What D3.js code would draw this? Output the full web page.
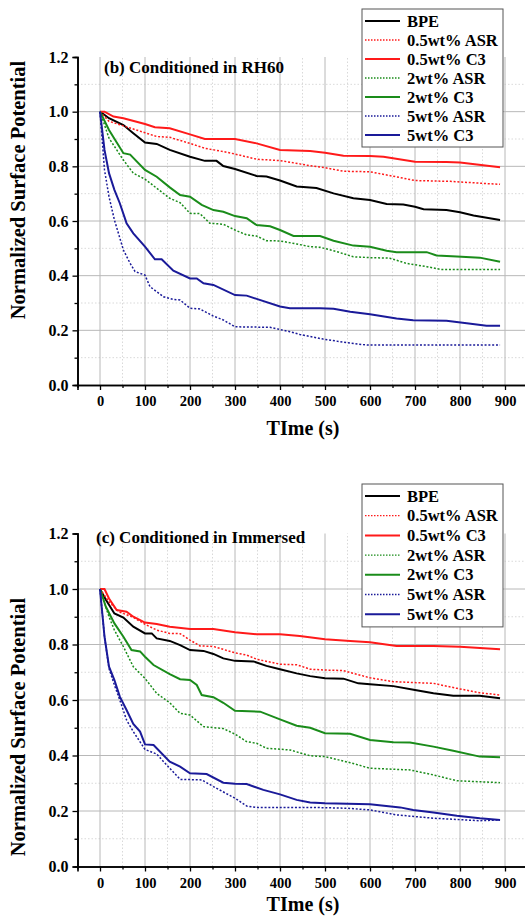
<!DOCTYPE html>
<html>
<head>
<meta charset="utf-8">
<script src="https://cdn.jsdelivr.net/npm/d3@7"></script>
<style>
  body { margin: 0; background: #fff; }
  svg { display: block; }
  text { font-family: "Liberation Serif", "Times New Roman", serif; font-weight: bold; }
</style>
</head>
<body>
<script>
// series labels shown in the legend
const seriesNames = ["BPE", "0.5wt% ASR", "0.5wt% C3", "2wt% ASR", "2wt% C3", "5wt% ASR", "5wt% C3"];
const xTicks = [0, 100, 200, 300, 400, 500, 600, 700, 800, 900];
const yTicks = [0.0, 0.2, 0.4, 0.6, 0.8, 1.0, 1.2];

// (b) conditioned in RH60 : [time s, normalized potential]
const rh60BPE = [[0,1.0],[20,0.976],[52,0.951],[74,0.921],[100,0.887],[126,0.882],[155,0.860],[200,0.835],[233,0.820],[259,0.820],[274,0.801],[300,0.790],[348,0.765],[370,0.763],[400,0.748],[437,0.726],[481,0.721],[519,0.701],[563,0.683],[600,0.677],[637,0.662],[674,0.660],[700,0.652],[719,0.643],[770,0.640],[800,0.632],[830,0.620],[889,0.604]];
const rh60ASR05 = [[0,1.0],[20,0.965],[52,0.948],[100,0.923],[126,0.909],[155,0.906],[200,0.884],[233,0.866],[274,0.854],[300,0.845],[348,0.826],[400,0.821],[444,0.809],[467,0.802],[500,0.795],[541,0.782],[600,0.780],[667,0.759],[700,0.748],[778,0.745],[889,0.734]];
const rh60C305 = [[0,1.0],[10,1.0],[30,0.982],[52,0.976],[100,0.955],[122,0.943],[155,0.939],[200,0.917],[233,0.900],[300,0.900],[348,0.884],[400,0.860],[467,0.856],[500,0.850],[541,0.839],[600,0.838],[630,0.835],[700,0.817],[770,0.816],[800,0.814],[889,0.797]];
const rh60ASR2 = [[0,1.0],[20,0.903],[52,0.823],[74,0.775],[100,0.753],[126,0.720],[155,0.683],[178,0.667],[200,0.628],[222,0.627],[244,0.592],[274,0.588],[300,0.567],[326,0.549],[348,0.545],[370,0.528],[400,0.527],[437,0.516],[467,0.506],[489,0.504],[526,0.488],[563,0.469],[600,0.466],[644,0.464],[681,0.445],[726,0.433],[756,0.423],[889,0.423]];
const rh60C32 = [[0,1.0],[20,0.933],[52,0.848],[67,0.843],[100,0.787],[126,0.762],[155,0.723],[178,0.695],[200,0.689],[226,0.659],[252,0.640],[274,0.634],[300,0.618],[326,0.610],[348,0.585],[378,0.581],[400,0.567],[430,0.545],[489,0.545],[519,0.528],[563,0.510],[600,0.506],[637,0.491],[659,0.486],[726,0.486],[748,0.474],[793,0.470],[844,0.466],[889,0.451]];
const rh60ASR5 = [[0,1.0],[10,0.787],[20,0.689],[32,0.604],[52,0.494],[67,0.445],[78,0.415],[100,0.402],[111,0.360],[141,0.323],[163,0.313],[178,0.311],[200,0.281],[222,0.278],[252,0.252],[274,0.238],[300,0.213],[378,0.211],[422,0.195],[444,0.185],[496,0.168],[548,0.155],[593,0.146],[889,0.146]];
const rh60C35 = [[0,1.0],[10,0.860],[20,0.775],[32,0.714],[44,0.665],[59,0.592],[74,0.555],[100,0.506],[122,0.460],[137,0.460],[163,0.418],[200,0.390],[215,0.390],[230,0.372],[252,0.366],[300,0.329],[326,0.327],[348,0.315],[400,0.287],[422,0.281],[489,0.281],[519,0.279],[556,0.268],[600,0.259],[659,0.243],[696,0.237],[770,0.235],[815,0.226],[859,0.217],[889,0.217]];

// (c) conditioned in immersed
const immBPE = [[0,1.0],[13,0.961],[32,0.912],[52,0.897],[74,0.864],[100,0.840],[115,0.840],[126,0.822],[155,0.813],[178,0.798],[200,0.780],[230,0.777],[252,0.766],[274,0.750],[300,0.741],[341,0.739],[370,0.723],[400,0.711],[437,0.696],[467,0.686],[500,0.678],[541,0.677],[574,0.660],[600,0.657],[652,0.650],[700,0.636],[741,0.624],[785,0.615],[844,0.615],[889,0.606]];
const immASR05 = [[0,1.0],[20,0.954],[42,0.918],[74,0.898],[100,0.873],[126,0.852],[155,0.840],[178,0.839],[200,0.816],[222,0.795],[252,0.793],[300,0.770],[326,0.762],[348,0.747],[400,0.729],[437,0.727],[467,0.711],[500,0.708],[541,0.706],[600,0.680],[652,0.666],[741,0.660],[793,0.642],[844,0.626],[889,0.618]];
const immC305 = [[0,1.0],[10,1.0],[20,0.966],[37,0.924],[59,0.918],[74,0.900],[100,0.879],[126,0.874],[155,0.864],[200,0.856],[252,0.856],[300,0.844],[348,0.837],[400,0.837],[444,0.831],[500,0.819],[556,0.813],[600,0.808],[659,0.795],[741,0.795],[800,0.792],[889,0.783]];
const immASR2 = [[0,1.0],[10,0.949],[20,0.900],[32,0.852],[52,0.792],[74,0.720],[100,0.678],[126,0.624],[155,0.590],[178,0.552],[200,0.546],[230,0.504],[274,0.497],[300,0.477],[326,0.450],[348,0.444],[370,0.426],[422,0.420],[467,0.399],[500,0.396],[556,0.374],[600,0.354],[689,0.348],[741,0.330],[793,0.309],[889,0.302]];
const immC32 = [[0,1.0],[13,0.936],[32,0.876],[52,0.828],[70,0.780],[89,0.775],[100,0.756],[119,0.726],[155,0.693],[178,0.675],[200,0.672],[215,0.654],[226,0.618],[252,0.610],[274,0.590],[300,0.561],[356,0.558],[400,0.530],[437,0.507],[467,0.500],[500,0.480],[556,0.478],[600,0.456],[652,0.448],[689,0.447],[741,0.432],[785,0.417],[844,0.396],[889,0.394]];
const immASR5 = [[0,1.0],[10,0.828],[20,0.714],[32,0.654],[44,0.600],[59,0.528],[74,0.486],[100,0.422],[126,0.405],[155,0.354],[178,0.314],[226,0.312],[252,0.288],[300,0.246],[326,0.218],[348,0.213],[467,0.213],[548,0.210],[600,0.204],[659,0.186],[741,0.174],[844,0.165],[889,0.168]];
const immC35 = [[0,1.0],[10,0.828],[20,0.720],[32,0.672],[44,0.612],[59,0.564],[74,0.514],[89,0.486],[100,0.440],[119,0.438],[155,0.378],[178,0.360],[200,0.336],[237,0.333],[274,0.302],[300,0.298],[326,0.297],[363,0.276],[400,0.260],[437,0.240],[467,0.231],[500,0.228],[600,0.224],[667,0.213],[696,0.204],[741,0.195],[793,0.183],[844,0.174],[889,0.168]];

const colors = ["#000000", "#ff1a1a", "#ff1a1a", "#1a8c1a", "#1a8c1a", "#1a1a99", "#1a1a99"];
const dashed = [false, true, false, true, false, true, false];

const svg = d3.select("body").append("svg")
    .attr("width", 525)
    .attr("height", 920);

function drawPanel(cfg) {
    var x = d3.scaleLinear().domain([-50, 950]).range([77.5, 527.5]);
    var y = d3.scaleLinear().domain([0, 1.2]).range([cfg.bottom, cfg.top]);

    var g = svg.append("g");

    // minor grid (dotted)
    g.selectAll(".vminor")
        .data(d3.range(50, 950, 100))
        .enter().append("line")
        .attr("x1", d => x(d)).attr("x2", d => x(d))
        .attr("y1", y(0)).attr("y2", y(1.2))
        .attr("stroke", "#cfcfcf").attr("stroke-width", 0.8)
        .attr("stroke-dasharray", "1.5,2");
    g.selectAll(".hminor")
        .data([0.1, 0.3, 0.5, 0.7, 0.9, 1.1])
        .enter().append("line")
        .attr("x1", x(-50)).attr("x2", 525)
        .attr("y1", d => y(d)).attr("y2", d => y(d))
        .attr("stroke", "#cfcfcf").attr("stroke-width", 0.8)
        .attr("stroke-dasharray", "1.5,2");
    // major grid
    g.selectAll(".vmajor")
        .data(xTicks)
        .enter().append("line")
        .attr("x1", d => x(d)).attr("x2", d => x(d))
        .attr("y1", y(0)).attr("y2", y(1.2))
        .attr("stroke", "#b8b8b8").attr("stroke-width", 1);
    g.selectAll(".hmajor")
        .data([0.2, 0.4, 0.6, 0.8, 1.0])
        .enter().append("line")
        .attr("x1", x(-50)).attr("x2", 525)
        .attr("y1", d => y(d)).attr("y2", d => y(d))
        .attr("stroke", "#b8b8b8").attr("stroke-width", 1);

    // axes
    var xAxis = d3.axisBottom(x).tickValues(xTicks).tickSize(5).tickPadding(6).tickFormat(d3.format("d"));
    var xMinor = d3.axisBottom(x).tickValues(d3.range(50, 950, 100)).tickSize(3).tickFormat("");
    var yAxis = d3.axisLeft(y).tickValues(yTicks).tickSize(5).tickPadding(4).tickFormat(d3.format(".1f"));
    var yMinor = d3.axisLeft(y).tickValues([0.1, 0.3, 0.5, 0.7, 0.9, 1.1]).tickSize(3).tickFormat("");

    var gx = g.append("g").attr("transform", "translate(0," + y(0) + ")").call(xAxis);
    g.append("g").attr("transform", "translate(0," + y(0) + ")").call(xMinor);
    var gy = g.append("g").attr("transform", "translate(" + x(-50) + ",0)").call(yAxis);
    g.append("g").attr("transform", "translate(" + x(-50) + ",0)").call(yMinor);
    g.selectAll(".domain").attr("stroke", "#000").attr("stroke-width", 1.6);
    g.selectAll(".tick line").attr("stroke", "#000").attr("stroke-width", 1.3);
    gx.selectAll("text").attr("font-size", 14.5).attr("font-family", "Liberation Serif").attr("font-weight", "bold").attr("fill", "#000");
    gy.selectAll("text").attr("font-size", 16).attr("font-family", "Liberation Serif").attr("font-weight", "bold").attr("fill", "#000");

    // data lines
    var line = d3.line()
        .x(d => x(d[0]))
        .y(d => y(d[1]));
    cfg.series.forEach(function(s, i) {
        g.append("path")
            .datum(s)
            .attr("fill", "none")
            .attr("stroke", colors[i])
            .attr("stroke-width", dashed[i] ? 1.5 : 2)
            .attr("stroke-dasharray", dashed[i] ? "2,1.8" : null)
            .attr("d", line);
    });

    // panel title
    g.append("text")
        .attr("x", cfg.titleX)
        .attr("y", cfg.titleY)
        .attr("font-size", 17)
        .text(cfg.title);

    // axis labels
    g.append("text")
        .attr("x", 303)
        .attr("y", cfg.xLabelY)
        .attr("text-anchor", "middle")
        .attr("font-size", 20)
        .text("TIme (s)");
    g.append("text")
        .attr("transform", "translate(25," + cfg.labelY + ") rotate(-90)")
        .attr("text-anchor", "middle")
        .attr("font-size", 20.5)
        .text("Normalized Surface Potential");

    // legend
    var lg = g.append("g").attr("transform", "translate(362," + cfg.legendTop + ")");
    lg.append("rect")
        .attr("width", 141)
        .attr("height", cfg.legendStep * 7 + 5)
        .attr("fill", "#fff")
        .attr("stroke", "#555")
        .attr("stroke-width", 1);
    seriesNames.forEach(function(name, i) {
        var cy = 12 + i * cfg.legendStep;
        lg.append("line")
            .attr("x1", 3).attr("x2", 38)
            .attr("y1", cy).attr("y2", cy)
            .attr("stroke", colors[i])
            .attr("stroke-width", dashed[i] ? 1.3 : 2)
            .attr("stroke-dasharray", dashed[i] ? "1.5,1.5" : null);
        lg.append("text")
            .attr("x", 45)
            .attr("y", cy + 5.5)
            .attr("font-size", 16.5)
            .text(name);
    });
}

drawPanel({
    top: 57, bottom: 385,
    series: [rh60BPE, rh60ASR05, rh60C305, rh60ASR2, rh60C32, rh60ASR5, rh60C35],
    title: "(b) Conditioned in RH60", titleX: 104, titleY: 73,
    xLabelY: 435, labelY: 190, legendTop: 9, legendStep: 19
});
drawPanel({
    top: 533.5, bottom: 866.5,
    series: [immBPE, immASR05, immC305, immASR2, immC32, immASR5, immC35],
    title: "(c) Conditioned in Immersed", titleX: 96, titleY: 543,
    xLabelY: 911, labelY: 727, legendTop: 484, legendStep: 19.7
});
</script>
</body>
</html>
